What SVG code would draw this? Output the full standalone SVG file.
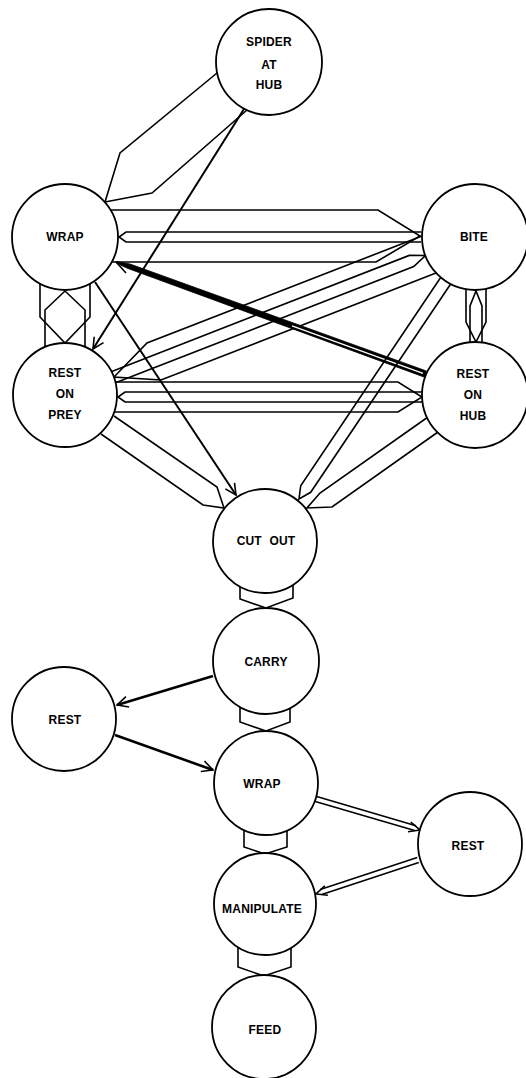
<svg xmlns="http://www.w3.org/2000/svg" width="526" height="1078" viewBox="0 0 526 1078">
<style>
.band{fill:none;stroke:#000;stroke-width:1.6;stroke-linejoin:miter}
.ln{fill:none;stroke:#000;stroke-width:2}
.thk{fill:none;stroke:#000;stroke-width:2.6}
.node circle{fill:#fff;stroke:#000;stroke-width:1.8}
.node text{font-family:"Liberation Sans",Arial,sans-serif;font-weight:bold;font-size:12px;letter-spacing:0.2px;text-anchor:middle;fill:#000}
</style>
<defs>
<marker id="ah" markerUnits="userSpaceOnUse" markerWidth="16" markerHeight="16" viewBox="-13 -8 16 16" refX="0" refY="0" orient="auto">
<path d="M-11,-5.5 L0,0 L-11,5.5" fill="none" stroke="#000" stroke-width="1.6"/>
</marker>
</defs>
<rect width="526" height="1078" fill="#fff"/>
<g id="connectors">
<path class="band" d="M217,73 L120,153 L105,202 L152,193 L247,110"/>
<line class="ln" x1="244" y1="109" x2="93" y2="349" marker-end="url(#ah)"/>
<path class="band" d="M111,210 L378,210 L420,236 L376,262 L112,262"/>
<path class="band" d="M421,232 L126,232 L119,237 L126,242 L421,242"/>
<path class="band" d="M40,284 L40,317 L65,343 L90,317 L90,284"/>
<path class="band" d="M45,347 L45,310 L65,291 L85,310 L85,347"/>
<path class="band" d="M466,289 L466,322 L476,342 L486,322 L486,289"/>
<path class="band" d="M470,343 L470,306 L476,291 L482,306 L482,343"/>
<line class="ln" x1="95" y1="282" x2="236" y2="495" marker-end="url(#ah)"/>
<path class="band" d="M422,236 L147,343 L114,377 L161,380 L436,273"/>
<path class="band" d="M111.8,371.4 L409.3,255.4 L425.5,255.5 L413.7,266.6 L116.2,382.6"/>
<polygon points="116,261.5 130,264 426.5,371 424.5,377.2 128,268.5 116,263" fill="#000" stroke="#000" stroke-width="0.8"/>
<line x1="292" y1="325.9" x2="423" y2="373.3" stroke="#fff" stroke-width="1.3"/>
<line x1="117" y1="263" x2="126" y2="273" stroke="#000" stroke-width="1.6"/>
<path class="band" d="M115,382 L398,382 L422,397 L398,412 L114,412"/>
<path class="band" d="M422,392 L125,392 L118,397 L125,402 L422,402"/>
<path class="band" d="M114,416 L217,487 L224,508 L203,505 L101,434"/>
<path class="band" d="M428,417 L320,493 L307,508 L332,507 L438,432"/>
<path class="band" d="M440.5,277.7 L300.7,485.7 L299,499 L310.7,492.3 L450.5,284.3"/>
<path class="band" d="M240,586 L240,599 L266,608 L293,598 L293,585"/>
<line class="thk" x1="213" y1="676" x2="117" y2="705" marker-end="url(#ah)"/>
<line class="thk" x1="115" y1="735" x2="213" y2="770" marker-end="url(#ah)"/>
<path class="band" d="M240,707 L240,722 L266,731 L290,722 L290,708"/>
<line class="band" x1="316.7" y1="796.6" x2="416" y2="825.8"/>
<line class="band" x1="315.3" y1="801.4" x2="414.6" y2="830.6"/>
<path class="band" d="M410.8,822.1 L420,830 L408,831.7"/>
<path class="band" d="M244,830 L244,847 L265,854 L287,847 L287,830"/>
<line class="band" x1="417.2" y1="857.6" x2="320.2" y2="889.6"/>
<line class="band" x1="418.8" y1="862.4" x2="321.8" y2="894.4"/>
<path class="band" d="M327.9,895.3 L316,894 L324.8,885.9"/>
<path class="band" d="M238,947 L238,967 L264,976 L291,967 L291,947"/>
</g>
<g id="n-spider" class="node"><circle cx="269" cy="62" r="53"/><text x="269" y="46">SPIDER</text><text x="269" y="69">AT</text><text x="269" y="89">HUB</text></g>
<g id="n-wrap1" class="node"><circle cx="65" cy="237" r="53"/><text x="65" y="241">WRAP</text></g>
<g id="n-bite" class="node"><circle cx="475" cy="237" r="53"/><text x="474" y="241">BITE</text></g>
<g id="n-restprey" class="node"><circle cx="65" cy="395" r="52"/><text x="65" y="377">REST</text><text x="65" y="398">ON</text><text x="65" y="419">PREY</text></g>
<g id="n-resthub" class="node"><circle cx="475" cy="395" r="53"/><text x="473" y="378">REST</text><text x="473" y="399">ON</text><text x="473" y="420">HUB</text></g>
<g id="n-cutout" class="node"><circle cx="265" cy="541" r="52"/><text x="266" y="545" word-spacing="4">CUT OUT</text></g>
<g id="n-carry" class="node"><circle cx="266" cy="661" r="53"/><text x="266" y="666">CARRY</text></g>
<g id="n-rest1" class="node"><circle cx="64" cy="719" r="52"/><text x="65" y="724">REST</text></g>
<g id="n-wrap2" class="node"><circle cx="266" cy="783" r="52"/><text x="262" y="788">WRAP</text></g>
<g id="n-rest2" class="node"><circle cx="470" cy="844" r="52"/><text x="468" y="850">REST</text></g>
<g id="n-manip" class="node"><circle cx="265" cy="904" r="51"/><text x="262" y="913">MANIPULATE</text></g>
<g id="n-feed" class="node"><circle cx="264" cy="1027" r="52"/><text x="265" y="1034">FEED</text></g>
</svg>
